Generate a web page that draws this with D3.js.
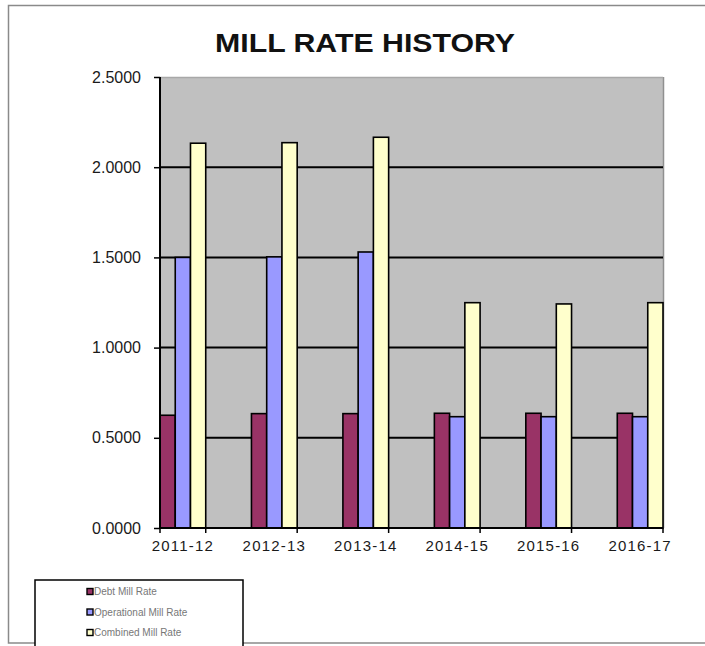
<!DOCTYPE html>
<html>
<head>
<meta charset="utf-8">
<script src="https://cdn.jsdelivr.net/npm/d3@7"></script>
<style>
  html, body { margin: 0; padding: 0; background: #fff; }
  svg { display: block; font-family: "Liberation Sans", Arial, sans-serif; }
</style>
</head>
<body>
<svg id="chart" width="705" height="646"></svg>
<script>
const categories = ["2011-12", "2012-13", "2013-14", "2014-15", "2015-16", "2016-17"];
const seriesNames = ["Debt Mill Rate", "Operational Mill Rate", "Combined Mill Rate"];
const debtRate = [0.625, 0.634, 0.634, 0.636, 0.636, 0.636];
const operationalRate = [1.500, 1.503, 1.530, 0.617, 0.617, 0.617];
const combinedRate = [2.133, 2.136, 2.166, 1.249, 1.242, 1.249];
const seriesColors = ["#993366", "#9999ff", "#ffffcc"];
const yTicks = [0, 0.5, 1.0, 1.5, 2.0, 2.5];

(function () {
const allSeries = [debtRate, operationalRate, combinedRate];
const svg = d3.select("#chart");

// outer frame
svg.append("rect").attr("x", 8.5).attr("y", 5.5).attr("width", 700).attr("height", 637.5)
  .attr("fill", "none").attr("stroke", "#8a8a8a").attr("stroke-width", 1.5);

const pLeft = 160, pRight = 663, pTop = 77, pBottom = 528;
const x = d3.scaleBand().domain(categories).range([pLeft, pRight]).paddingInner(0.5).paddingOuter(0);
const xs = d3.scaleBand().domain(d3.range(seriesNames.length)).range([0, x.bandwidth()]).padding(0);
const y = d3.scaleLinear().domain([0, 2.5]).range([pBottom, pTop]);

// plot background
svg.append("rect").attr("x", pLeft).attr("y", pTop).attr("width", pRight - pLeft).attr("height", pBottom - pTop)
  .attr("fill", "#c0c0c0");
svg.append("line").attr("x1", pRight + 0.5).attr("x2", pRight + 0.5).attr("y1", pTop).attr("y2", pBottom)
  .attr("stroke", "#909090").attr("stroke-width", 1.5);
svg.append("line").attr("x1", pLeft).attr("x2", pRight).attr("y1", pTop + 0.5).attr("y2", pTop + 0.5)
  .attr("stroke", "#a8a8a8").attr("stroke-width", 1.5);

// gridlines
svg.append("g").selectAll("line").data(yTicks.filter(t => t > 0 && t < 2.5)).join("line")
  .attr("x1", pLeft).attr("x2", pRight)
  .attr("y1", d => y(d)).attr("y2", d => y(d))
  .attr("stroke", "#000").attr("stroke-width", 2);

// bars
const rows = categories.map((c, i) => ({ cat: c, vals: allSeries.map(s => s[i]) }));
const groups = svg.append("g").selectAll("g").data(rows).join("g")
  .attr("transform", d => `translate(${x(d.cat)},0)`);
groups.selectAll("rect").data(d => d.vals.map((v, k) => ({ k, v }))).join("rect")
  .attr("x", d => xs(d.k))
  .attr("y", d => y(d.v))
  .attr("width", xs.bandwidth())
  .attr("height", d => y(0) - y(d.v))
  .attr("fill", d => seriesColors[d.k])
  .attr("stroke", "#000").attr("stroke-width", 1.6);

// y axis
const yAxis = d3.axisLeft(y).tickValues(yTicks).tickFormat(d3.format(".4f")).tickSize(6).tickPadding(13);
const gy = svg.append("g").attr("transform", `translate(${pLeft},0)`).call(yAxis);
gy.select(".domain").attr("stroke", "#000").attr("stroke-width", 2).attr("d", `M0,${pTop}V${pBottom}`);
gy.selectAll(".tick line").attr("stroke", "#000").attr("stroke-width", 1.5);
gy.selectAll(".tick text").attr("font-size", 16).attr("fill", "#1a1a1a")
  .attr("font-family", "'Liberation Sans', Arial, sans-serif");

// x axis
const xAxis = d3.axisBottom(x).tickSize(0).tickPadding(12);
const gx = svg.append("g").attr("transform", `translate(0,${pBottom})`).call(xAxis);
gx.select(".domain").attr("stroke", "#000").attr("stroke-width", 2).attr("d", `M${pLeft},0H${pRight}`);
gx.selectAll(".tick text").attr("font-size", 15).attr("fill", "#1a1a1a").attr("letter-spacing", 1.2)
  .attr("font-family", "'Liberation Sans', Arial, sans-serif");
// category boundary ticks
svg.append("g").selectAll("line").data([pLeft].concat(categories.map(c => x(c) + x.bandwidth()))).join("line")
  .attr("x1", d => d).attr("x2", d => d).attr("y1", pBottom).attr("y2", pBottom + 5)
  .attr("stroke", "#000").attr("stroke-width", 1.5);

// title
svg.append("text").attr("x", 215).attr("y", 52)
  .attr("font-size", 26.5).attr("font-weight", "bold").attr("fill", "#111")
  .attr("textLength", 300).attr("lengthAdjust", "spacingAndGlyphs")
  .text("MILL RATE HISTORY");

// legend
const lg = svg.append("g");
lg.append("rect").attr("x", 35).attr("y", 580).attr("width", 208).attr("height", 70)
  .attr("fill", "#fff").attr("stroke", "#000").attr("stroke-width", 1.5);
const li = lg.selectAll("g").data(seriesNames).join("g")
  .attr("transform", (d, i) => `translate(87,${592 + i * 20.5})`);
li.append("rect").attr("x", 0).attr("y", -3.5).attr("width", 6).attr("height", 6)
  .attr("fill", (d, i) => seriesColors[i]).attr("stroke", "#000").attr("stroke-width", 1.4);
li.append("text").attr("x", 7).attr("y", 3).attr("font-size", 10).attr("fill", "#777").text(d => d);
})();
</script>
</body>
</html>
